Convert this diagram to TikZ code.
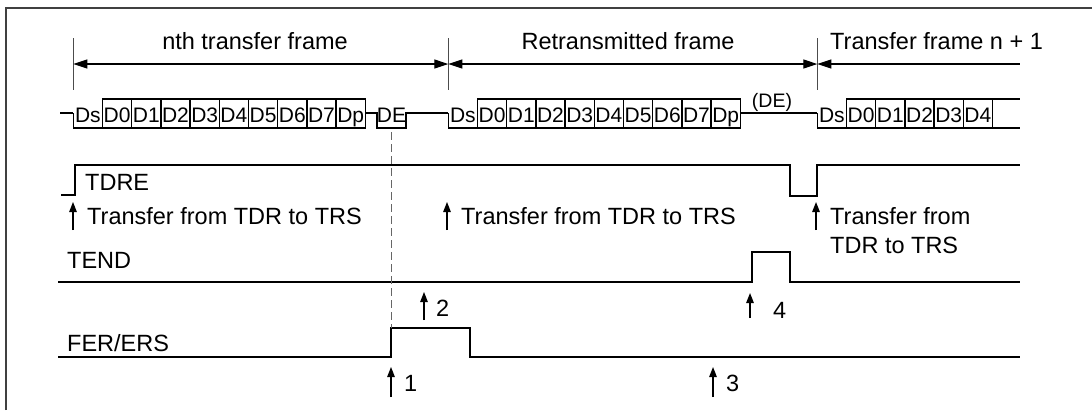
\documentclass[tikz,border=0pt]{standalone}
\usepackage{fontspec}
\setmainfont{Liberation Sans}
\usetikzlibrary{arrows.meta,positioning}

\begin{document}
\begin{tikzpicture}[x=1pt,y=-1pt,
    sig/.style={line width=1.3pt,line join=miter},
    dim/.style={line width=1.1pt,{Triangle[length=14pt,width=9pt]}-{Triangle[length=14pt,width=9pt]}},
    dimL/.style={line width=1.1pt,{Triangle[length=14pt,width=9pt]}-},
    tick/.style={line width=1pt,black!70},
    uparr/.style={line width=1.3pt,-{Triangle[length=10pt,width=7.5pt]}},
    lbl/.style={inner sep=0pt,font=\fontsize{23.5}{29}\selectfont},
    bit/.style={inner sep=0pt,anchor=base,font=\fontsize{21}{24}\selectfont}]
  \useasboundingbox (0,0) rectangle (1092,410);
  \draw[line width=1.2pt,black!75] (6,410) -- (6,8) -- (1092,8);

  % frame marks
  \coordinate (m1) at (73.3,64);
  \coordinate (m2) at (448.3,64);
  \coordinate (m3) at (817.3,64);
  \coordinate (mEnd) at (1020,64);
  \foreach \m in {m1,m2,m3}
    \draw[tick] (\m) ++(0,-26) -- ++(0,52);
  \draw[dim] (m1) -- (m2);
  \draw[dim] (m2) -- (m3);
  \draw[dimL] (m3) -- (mEnd);
  \node[lbl,anchor=base] (fA) at (255,49) {nth transfer frame};
  \node[lbl,anchor=base] (fB) at (628,49) {Retransmitted frame};
  \node[lbl,anchor=base west] (fC) at (830,49) {Transfer frame n + 1};

  % serial data
  \foreach \s/\f in {73.3/a,448.3/b} {
    \draw[sig] (\s,113) -- (\s,128) -- (\s+292,128) -- (\s+292,99) -- (\s+29.2,99) -- (\s+29.2,128);
    \foreach \k in {2,...,9}
      \draw[sig] (\s+\k*29.2,99) -- (\s+\k*29.2,128);
    \foreach \k/\t in {0/Ds,1/D0,2/D1,3/D2,4/D3,5/D4,6/D5,7/D6,8/D7,9/Dp}
      \node[bit] (\f\k) at (\s+\k*29.2+14.6,122) {\t};
  }
  \draw[sig] (817.3,113) -- (817.3,128) -- (1020,128);
  \draw[sig] (846.5,128) -- (846.5,99) -- (1020,99);
  \foreach \k in {2,...,6}
    \draw[sig] (817.3+\k*29.2,99) -- (817.3+\k*29.2,128);
  \foreach \k/\t in {0/Ds,1/D0,2/D1,3/D2,4/D3,5/D4}
    \node[bit] (c\k) at (817.3+\k*29.2+14.6,122) {\t};
  \draw[sig] (60,113) -- (73.3,113);
  \draw[sig] (365.3,113) -- (377,113) -- (377,128) -- (406,128) -- (406,113) -- (448.3,113);
  \draw[sig] (740.3,113) -- (817.3,113);
  \node[bit] (de) at (391.5,122) {DE};
  \node[bit,font=\fontsize{19.5}{22}\selectfont] (deR) at (772,107) {(DE)};

  % TDRE
  \draw[sig] (61,195) -- (75,195) -- (75,165) -- (790,165) -- (790,196) -- (817,196) -- (817,165) -- (1020,165);
  \node[lbl,anchor=base west] (tdre) at (85,190) {TDRE};
  \node[lbl,anchor=base west] (tr1) at (87,224) {Transfer from TDR to TRS};
  \node[lbl,anchor=base west] (tr2) at (461,224) {Transfer from TDR to TRS};
  \node[lbl,anchor=base west] (tr3) at (830,224) {Transfer from};
  \node[lbl,anchor=base west] (tr3b) at (830,253) {TDR to TRS};
  \draw[uparr] (73,230) -- ++(0,-28);
  \draw[uparr] (447,230) -- ++(0,-28);
  \draw[uparr] (816,230) -- ++(0,-28);

  % TEND
  \node[lbl,anchor=base west] (tend) at (67,268) {TEND};
  \draw[sig] (58,282) -- (752,282) -- (752,252) -- (790,252) -- (790,282) -- (1020,282);

  % FER/ERS
  \node[lbl,anchor=base west] (fer) at (67,351) {FER/ERS};
  \draw[sig] (58,357) -- (391,357) -- (391,328) -- (470,328) -- (470,357) -- (1020,357);
  \draw[line width=1pt,black!60,dash pattern=on 8pt off 4pt] (391,132) -- (391,328);

  % events
  \node[lbl,anchor=base west] (n1) at (404,391) {1};
  \node[lbl,anchor=base west] (n2) at (436,316) {2};
  \node[lbl,anchor=base west] (n3) at (726,391) {3};
  \node[lbl,anchor=base west] (n4) at (773,318) {4};
  \draw[uparr] (391,397) -- ++(0,-30);
  \draw[uparr] (424,320) -- ++(0,-28);
  \draw[uparr] (713,397) -- ++(0,-30);
  \draw[uparr] (750,318) -- ++(0,-25);
\end{tikzpicture}
\end{document}
